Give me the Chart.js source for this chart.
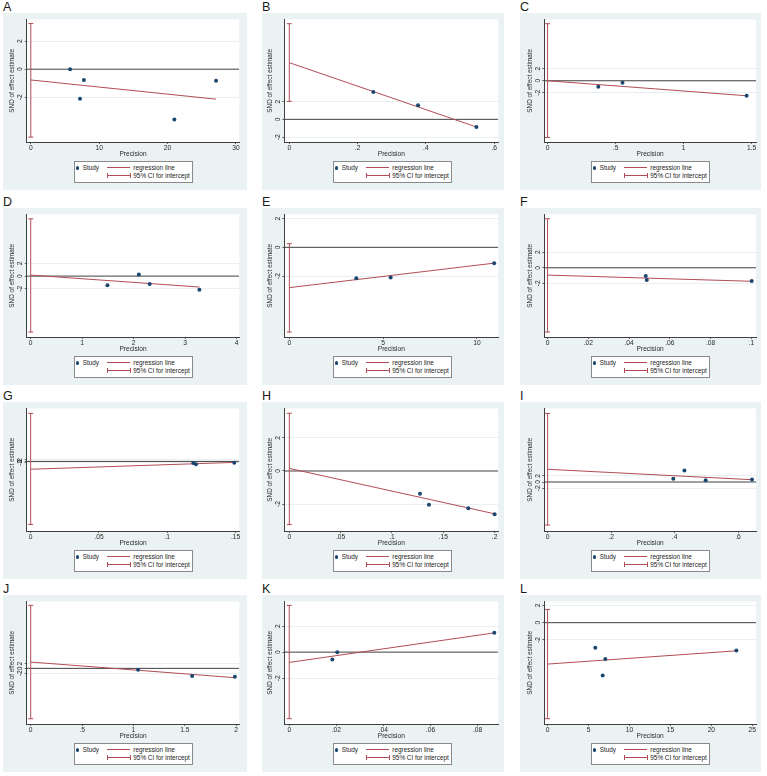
<!DOCTYPE html>
<html><head><meta charset="utf-8">
<script src="https://cdn.jsdelivr.net/npm/chart.js@4.4.1/dist/chart.umd.min.js"></script>
<style>
body{margin:0;background:#fff;width:767px;height:776px;position:relative;overflow:hidden;font-family:"Liberation Sans",Arial,sans-serif;}
.box{position:absolute;background:#EAF2F3;}
.box canvas{position:absolute;left:0;top:0;}
.lbl{position:absolute;font-size:12.5px;line-height:1;color:#1a1a1a;}
.leg{position:absolute;left:71px;top:148px;width:117px;height:20px;background:#fff;border:1px solid #8a8a8a;font-size:6.4px;color:#222;}
.leg span{position:absolute;line-height:7px;white-space:nowrap;}
.leg i{position:absolute;display:block;}
</style></head>
<body>
<script>
// ---------- data ----------
const Y_TICKS = [-2, 0, 2];
const Y_LABELS = ["-2", "0", "2"];

const A_prec = [5.75, 7.76, 7.2, 21.0, 27.1];
const A_snd  = [0, -0.77, -2.11, -3.6, -0.82];
const A_regX = [0, 27.1], A_regY = [-0.77, -2.14];
const A_ci = [-4.85, 3.26];
const A_xRange = [-0.6, 30.5], A_yRange = [-5.2, 3.55];
const A_xTicks = [0, 10, 20, 30], A_xLabels = ["0", "10", "20", "30"];

const B_prec = [0.246, 0.377, 0.548];
const B_snd  = [3.07, 1.57, -0.86];
const B_regX = [0, 0.548], B_regY = [6.36, -0.86];
const B_ci = [2.02, 10.73];
const B_xRange = [-0.0146, 0.612], B_yRange = [-2.54, 11.2];
const B_xTicks = [0, 0.2, 0.4, 0.6], B_xLabels = ["0", ".2", ".4", ".6"];

const C_prec = [0.373, 0.551, 1.463];
const C_snd  = [-1.0, -0.33, -2.5];
const C_regX = [0, 1.463], C_regY = [0.0, -2.5];
const C_ci = [-9.44, 9.5];
const C_xRange = [-0.024, 1.532], C_yRange = [-10.2, 10.2];
const C_xTicks = [0, 0.5, 1, 1.5], C_xLabels = ["0", ".5", "1", "1.5"];

const D_prec = [1.49, 2.10, 2.31, 3.275];
const D_snd  = [-1.47, 0.26, -1.26, -2.16];
const D_regX = [0, 3.275], D_regY = [0.16, -1.74];
const D_ci = [-8.9, 9.1];
const D_xRange = [-0.078, 4.05], D_yRange = [-9.68, 9.79];
const D_xTicks = [0, 1, 2, 3, 4], D_xLabels = ["0", "1", "2", "3", "4"];

const E_prec = [3.57, 5.40, 10.92];
const E_snd  = [-2.14, -2.09, -1.10];
const E_regX = [0, 10.92], E_regY = [-2.80, -1.10];
const E_ci = [-5.89, 0.25];
const E_xRange = [-0.27, 11.14], E_yRange = [-6.23, 2.28];
const E_xTicks = [0, 5, 10], E_xLabels = ["0", "5", "10"];

const F_prec = [0.0482, 0.0487, 0.1002];
const F_snd  = [-1.06, -1.57, -1.70];
const F_regX = [0, 0.1002], F_regY = [-0.94, -1.74];
const F_ci = [-8.26, 6.3];
const F_xRange = [-0.0016, 0.1023], F_yRange = [-8.9, 6.85];
const F_xTicks = [0, 0.02, 0.04, 0.06, 0.08, 0.1], F_xLabels = ["0", ".02", ".04", ".06", ".08", ".1"];

const G_prec = [0.119, 0.121, 0.149];
const G_snd  = [-2.3, -4.1, -1.8];
const G_regX = [0, 0.149], G_regY = [-10.9, -1.4];
const G_ci = [-87.7, 66.8];
const G_xRange = [-0.0029, 0.1527], G_yRange = [-96.8, 73.6];
const G_xTicks = [0, 0.05, 0.1, 0.15], G_xLabels = ["0", ".05", ".1", ".15"];

const H_prec = [0.1273, 0.136, 0.1744, 0.2];
const H_snd  = [-1.37, -2.04, -2.25, -2.61];
const H_regX = [0, 0.2], H_regY = [0.157, -2.59];
const H_ci = [-3.24, 3.49];
const H_xRange = [-0.0049, 0.2036], H_yRange = [-3.63, 3.78];
const H_xTicks = [0, 0.05, 0.1, 0.15, 0.2], H_xLabels = ["0", ".05", ".1", ".15", ".2"];

const I_prec = [0.396, 0.431, 0.498, 0.644];
const I_snd  = [1.05, 3.68, 0.53, 0.84];
const I_regX = [0, 0.644], I_regY = [4.1, 0.74];
const I_ci = [-13.9, 22.1];
const I_xRange = [-0.0105, 0.6566], I_yRange = [-15.8, 23.7];
const I_xTicks = [0, 0.2, 0.4, 0.6], I_xLabels = ["0", ".2", ".4", ".6"];

const J_prec = [1.045, 1.571, 1.987];
const J_snd  = [-0.56, -3.19, -3.47];
const J_regX = [0, 1.987], J_regY = [2.64, -3.9];
const J_ci = [-21.1, 26.4];
const J_xRange = [-0.039, 2.03], J_yRange = [-23.3, 28];
const J_xTicks = [0, 0.5, 1, 1.5, 2], J_xLabels = ["0", ".5", "1", "1.5", "2"];

const K_prec = [0.0183, 0.0204, 0.0871];
const K_snd  = [-0.56, 0, 1.48];
const K_regX = [0, 0.0871], K_regY = [-0.79, 1.48];
const K_ci = [-5.11, 3.59];
const K_xRange = [-0.0021, 0.0888], K_yRange = [-5.52, 3.89];
const K_xTicks = [0, 0.02, 0.04, 0.06, 0.08], K_xLabels = ["0", ".02", ".04", ".06", ".08"];

const L_prec = [5.83, 7.05, 6.73, 23.05];
const L_snd  = [-2.92, -4.23, -6.15, -3.23];
const L_regX = [0, 23.05], L_regY = [-4.81, -3.27];
const L_ci = [-11.15, 1.54];
const L_xRange = [-0.4, 25.45], L_yRange = [-11.77, 2.46];
const L_xTicks = [0, 5, 10, 15, 20, 25], L_xLabels = ["0", "5", "10", "15", "20", "25"];

const PANEL_IDS = ["A","B","C","D","E","F","G","H","I","J","K","L"];
const SERIES = {
  A:[A_prec,A_snd,A_regX,A_regY,A_ci,A_xRange,A_yRange,A_xTicks,A_xLabels],
  B:[B_prec,B_snd,B_regX,B_regY,B_ci,B_xRange,B_yRange,B_xTicks,B_xLabels],
  C:[C_prec,C_snd,C_regX,C_regY,C_ci,C_xRange,C_yRange,C_xTicks,C_xLabels],
  D:[D_prec,D_snd,D_regX,D_regY,D_ci,D_xRange,D_yRange,D_xTicks,D_xLabels],
  E:[E_prec,E_snd,E_regX,E_regY,E_ci,E_xRange,E_yRange,E_xTicks,E_xLabels],
  F:[F_prec,F_snd,F_regX,F_regY,F_ci,F_xRange,F_yRange,F_xTicks,F_xLabels],
  G:[G_prec,G_snd,G_regX,G_regY,G_ci,G_xRange,G_yRange,G_xTicks,G_xLabels],
  H:[H_prec,H_snd,H_regX,H_regY,H_ci,H_xRange,H_yRange,H_xTicks,H_xLabels],
  I:[I_prec,I_snd,I_regX,I_regY,I_ci,I_xRange,I_yRange,I_xTicks,I_xLabels],
  J:[J_prec,J_snd,J_regX,J_regY,J_ci,J_xRange,J_yRange,J_xTicks,J_xLabels],
  K:[K_prec,K_snd,K_regX,K_regY,K_ci,K_xRange,K_yRange,K_xTicks,K_xLabels],
  L:[L_prec,L_snd,L_regX,L_regY,L_ci,L_xRange,L_yRange,L_xTicks,L_xLabels]
};

// ---------- layout / style ----------
const RED = '#B34C57', NAVY = '#1A476F', DARK = '#404040', GRID = '#E4ECED', TXT = '#2a2a2a';
const FONT = '"Liberation Sans", Arial, sans-serif';
const COL_LEFT = [3, 262, 520], COL_W = [244, 242, 241];
const COL_PLOTL = [26.7, 284.3, 544.3], COL_PLOTR = [239.3, 498.3, 757];
const ROW_TOP = [13, 208, 402, 595];
const BOX_H = 177, CV_H = 146, PLOT_TOP = 6.5, PLOT_BOT = 129;

const plotBg = {
  id: 'plotBg',
  beforeDraw(chart) {
    const {ctx, chartArea: a} = chart;
    ctx.save(); ctx.fillStyle = '#fff';
    ctx.fillRect(a.left, a.top, a.right - a.left, a.bottom - a.top);
    ctx.restore();
  }
};
const yLab = {
  id: 'yLab',
  afterDraw(chart) {
    const {ctx, chartArea: a, scales: {y}} = chart;
    ctx.save();
    ctx.font = '6.7px ' + FONT; ctx.fillStyle = TXT;
    ctx.textAlign = 'center'; ctx.textBaseline = 'alphabetic';
    Y_TICKS.forEach((v, i) => {
      const py = y.getPixelForValue(v);
      ctx.save(); ctx.translate(a.left - 4.4, py); ctx.rotate(-Math.PI / 2);
      ctx.fillText(Y_LABELS[i], 0, 0); ctx.restore();
    });
    ctx.restore();
  }
};

function makeLegend(box) {
  const lg = document.createElement('div'); lg.className = 'leg';
  lg.innerHTML =
    `<i style="left:0.8px;top:4.2px;width:3.4px;height:3.4px;border-radius:50%;background:${NAVY}"></i>` +
    `<span style="left:7.7px;top:2.2px">Study</span>` +
    `<i style="left:32.3px;top:5.3px;width:22.7px;height:1px;background:${RED}"></i>` +
    `<span style="left:58.3px;top:2.2px">regression line</span>` +
    `<i style="left:32.3px;top:13.3px;width:22.7px;height:1px;background:${RED}"></i>` +
    `<i style="left:32.3px;top:11.3px;width:1px;height:5px;background:${RED}"></i>` +
    `<i style="left:54.5px;top:11.3px;width:1px;height:5px;background:${RED}"></i>` +
    `<span style="left:58.3px;top:10.2px">95% CI for intercept</span>`;
  box.appendChild(lg);
}

PANEL_IDS.forEach((id, k) => {
  const col = k % 3, row = Math.floor(k / 3);
  const [px, py, rx, ry, ci, xr, yr, xt, xl] = SERIES[id];
  const bl = COL_LEFT[col], bw = COL_W[col], bt = ROW_TOP[row];

  const lbl = document.createElement('div'); lbl.className = 'lbl';
  lbl.textContent = id; lbl.style.left = bl + 'px'; lbl.style.top = (bt - 12) + 'px';
  document.body.appendChild(lbl);

  const box = document.createElement('div'); box.className = 'box';
  box.style.cssText = `left:${bl}px;top:${bt}px;width:${bw}px;height:${BOX_H}px`;
  document.body.appendChild(box);
  const cv = document.createElement('canvas');
  cv.width = bw; cv.height = CV_H; cv.style.width = bw + 'px'; cv.style.height = CV_H + 'px';
  box.appendChild(cv);
  makeLegend(box);

  const plotL = COL_PLOTL[col] - bl, plotR = COL_PLOTR[col] - bl;
  const pts = px.map((v, i) => ({x: v, y: py[i]}));
  const reg = rx.map((v, i) => ({x: v, y: ry[i]}));
  const ciPts = ci.map(v => ({x: 0, y: v}));
  const zero = xr.map(v => ({x: v, y: 0}));

  new Chart(cv, {
    type: 'scatter',
    data: { datasets: [
      {type: 'scatter', data: pts, pointRadius: 2, pointBackgroundColor: NAVY, pointBorderColor: NAVY, pointBorderWidth: 0, order: 0},
      {type: 'line', data: reg, borderColor: RED, borderWidth: 1, pointRadius: 0, tension: 0, order: 1},
      {type: 'line', data: ciPts, borderColor: RED, borderWidth: 1, pointRadius: 2.5, pointStyle: 'line', pointBorderColor: RED, pointBorderWidth: 1, tension: 0, order: 2},
      {type: 'line', data: zero, borderColor: DARK, borderWidth: 1, pointRadius: 0, tension: 0, order: 3}
    ]},
    options: {
      responsive: false, animation: false, devicePixelRatio: 1,
      layout: { padding: { left: 0, right: bw - plotR, top: PLOT_TOP, bottom: 0 } },
      plugins: { legend: {display: false}, tooltip: {enabled: false} },
      scales: {
        x: {
          type: 'linear', min: xr[0], max: xr[1],
          afterBuildTicks: s => { s.ticks = xt.map(v => ({value: v})); },
          afterFit: s => { s.height = CV_H - PLOT_BOT; },
          ticks: { autoSkip: false, maxRotation: 0, minRotation: 0, padding: 0.3, color: TXT,
                   font: {family: FONT, size: 6.7},
                   callback: v => { const i = xt.indexOf(v); return i >= 0 ? xl[i] : ''; } },
          grid: { drawOnChartArea: false, drawTicks: true, tickLength: 2, tickColor: DARK, tickWidth: 0.8 },
          border: { display: true, color: DARK, width: 1 },
          title: { display: true, text: 'Precision', color: TXT, font: {family: FONT, size: 6.6}, padding: {top: 0, bottom: 1.2} }
        },
        y: {
          type: 'linear', min: yr[0], max: yr[1],
          afterBuildTicks: s => { s.ticks = Y_TICKS.map(v => ({value: v})); },
          afterFit: s => { s.width = plotL; },
          ticks: { display: false },
          grid: { drawOnChartArea: true, drawTicks: true, tickLength: 2, tickColor: DARK, tickWidth: 0.8,
                  color: c => (c.tick && c.tick.value === 0) ? 'rgba(0,0,0,0)' : GRID, lineWidth: 0.8 },
          border: { display: true, color: DARK, width: 1 },
          title: { display: true, text: 'SND of effect estimate', color: TXT, font: {family: FONT, size: 6.4},
                   padding: {top: Math.max(0, plotL - 14.4 - 3.8), bottom: 0} }
        }
      }
    },
    plugins: [plotBg, yLab]
  });
});
</script>
</body></html>
